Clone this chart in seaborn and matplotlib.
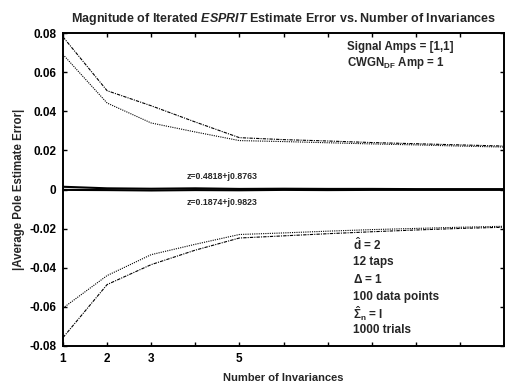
import matplotlib
matplotlib.use("Agg")
import matplotlib.pyplot as plt
import seaborn as sns
import numpy as np
import pandas as pd

# ---- data ----
invariances = [1, 2, 3, 4, 5, 6, 7, 8, 9, 10, 11]
upper_a = [0.078, 0.0505, 0.0428, 0.0345, 0.0265, 0.0255, 0.0248, 0.0240, 0.0234, 0.0228, 0.0222]
upper_b = [0.069, 0.0442, 0.0340, 0.0294, 0.0250, 0.0245, 0.0239, 0.0233, 0.0228, 0.0222, 0.0217]
zero_a = [0.0014, 0.0006, 0.0004, 0.0006, 0.0003, 0.0004, 0.0003, 0.0003, 0.0002, 0.0002, 0.0002]
zero_b = [-0.0002, -0.0003, -0.0005, -0.0003, -0.0004, -0.0002, -0.0003, -0.0002, -0.0002, -0.0002, -0.0002]
lower_a = [-0.0606, -0.0440, -0.0333, -0.0280, -0.0230, -0.0222, -0.0213, -0.0205, -0.0199, -0.0193, -0.0188]
lower_b = [-0.0757, -0.0486, -0.0384, -0.0310, -0.0248, -0.0237, -0.0226, -0.0216, -0.0207, -0.0199, -0.0193]

xtick_vals = [1, 2, 3, 4, 5, 6, 7, 8, 9, 10, 11]
xtick_labels = ["1", "2", "3", "", "5", "", "", "", "", "", ""]
ytick_vals = [-0.08, -0.06, -0.04, -0.02, 0, 0.02, 0.04, 0.06, 0.08]
ytick_labels = ["-0.08", "-0.06", "-0.04", "-0.02", "0", "0.02", "0.04", "0.06", "0.08"]

title = r"Magnitude of Iterated $\mathit{ESPRIT}$ Estimate Error vs. Number of Invariances"
info_top = ["Signal Amps = [1,1]", r"CWGN$_{DF}$ Amp = 1"]
info_bottom = [r"$\hat{d}$ = 2", "12 taps", r"$\Delta$ = 1", "100 data points",
               r"$\hat{\Sigma}_n$ = I", "1000 trials"]
pole_labels = ["z=0.4818+j0.8763", "z=0.1874+j0.9823"]

# ---- style ----
sns.set_theme(style="ticks")
plt.rcParams["font.family"] = ["Liberation Sans", "DejaVu Sans"]
plt.rcParams["font.weight"] = "bold"
plt.rcParams["mathtext.fontset"] = "custom"
plt.rcParams["mathtext.rm"] = "Liberation Sans:bold"
plt.rcParams["mathtext.bf"] = "Liberation Sans:bold"
plt.rcParams["mathtext.it"] = "Liberation Sans:bold:italic"
plt.rcParams["mathtext.sf"] = "Liberation Sans:bold"
plt.rcParams["mathtext.default"] = "bf"

fig = plt.figure(figsize=(5.05, 3.88), dpi=100)
ax = fig.add_axes([63 / 505, 1 - 346 / 388, (504 - 63) / 505, (346 - 33) / 388])

lw = 0.8
sns.lineplot(x=invariances, y=upper_a, ax=ax, color="black", lw=lw, linestyle=(0, (3, 1, 1, 1)))
sns.lineplot(x=invariances, y=upper_b, ax=ax, color="black", lw=lw, linestyle=(0, (1, 1)))
sns.lineplot(x=invariances, y=zero_a, ax=ax, color="black", lw=1.5)
sns.lineplot(x=invariances, y=zero_b, ax=ax, color="black", lw=1.5)
sns.lineplot(x=invariances, y=lower_a, ax=ax, color="black", lw=lw, linestyle=(0, (1, 1)))
sns.lineplot(x=invariances, y=lower_b, ax=ax, color="black", lw=lw, linestyle=(0, (3, 1, 1, 1)))

ax.set_xlim(1, 11)
ax.set_ylim(-0.08, 0.08)
ax.set_xticks(xtick_vals)
ax.set_xticklabels(xtick_labels)
ax.set_yticks(ytick_vals)
ax.set_yticklabels(ytick_labels)
ax.tick_params(direction="in", top=True, right=True, length=3, width=1,
               labelsize=8.5, pad=5, colors="black")
for lab in ax.get_xticklabels() + ax.get_yticklabels():
    lab.set_fontweight("bold")
for sp in ax.spines.values():
    sp.set_visible(True)
    sp.set_color("black")
    sp.set_linewidth(1.4)

ax.set_title(title, fontsize=9, fontweight="bold", pad=8)
ax.set_xlabel("Number of Invariances", fontsize=8, fontweight="bold")
ax.xaxis.set_label_coords(0.5, (346 - 373) / 313)
ax.set_ylabel("|Average Pole Estimate Error|", fontsize=8.3, fontweight="bold")
ax.yaxis.set_label_coords((25 - 63) / 441, 0.5)

for i, t in enumerate(info_top):
    ax.text(0.644, 0.955 - i * 0.052, t, transform=ax.transAxes, fontsize=8.3,
            fontweight="bold", va="center", ha="left")
ys = [0.323, 0.268, 0.211, 0.156, 0.102, 0.051]
for t, yy in zip(info_bottom, ys):
    ax.text(0.658, yy, t, transform=ax.transAxes, fontsize=8.5,
            fontweight="bold", va="center", ha="left")

ax.text(4.6, 0.0066, pole_labels[0], fontsize=6.3, fontweight="bold", ha="center", va="center")
ax.text(4.6, -0.0067, pole_labels[1], fontsize=6.3, fontweight="bold", ha="center", va="center")

fig.savefig("out.png", dpi=100)
